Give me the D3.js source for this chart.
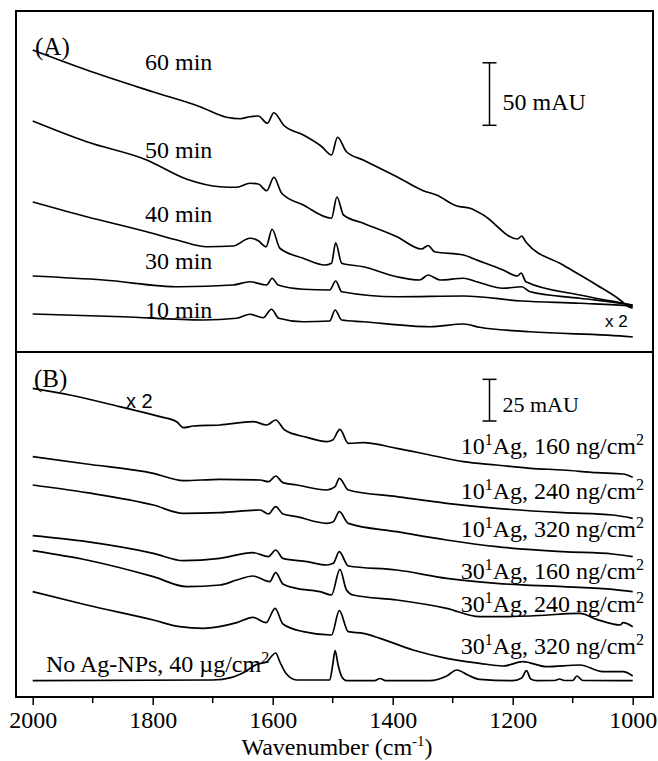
<!DOCTYPE html>
<html>
<head>
<meta charset="utf-8">
<script src="https://cdn.jsdelivr.net/npm/d3@7/dist/d3.min.js"></script>
<style>
  body { margin: 0; background: #fff; }
  text { font-family: "Liberation Serif", "Times New Roman", serif; fill: #000; }
  .sans { font-family: "Liberation Sans", Arial, sans-serif; }
</style>
</head>
<body>
<svg id="grafico" width="658" height="761"></svg>
<script>
// ---- dados (número de onda em cm-1, absorbância em mAU, com deslocamento de empilhamento) ----
const ticksPrincipais = [2000, 1800, 1600, 1400, 1200, 1000];
const ticksMenores = [1900, 1700, 1500, 1300, 1100];

// painel A: tempo de deposição
const rotulosA = ["60 min", "50 min", "40 min", "30 min", "10 min"];
const min60 = [[2000,241.6],[1910,225.6],[1800,208.2],[1721,196.2],[1677,187.8],[1654,186.6],[1638,188.2],[1624,188.8],[1609,183],[1598,191.4],[1582,181.6],[1549,173.6],[1518,164.2],[1502,157.6],[1492,171.8],[1477,160.2],[1449,153.6],[1393,140.2],[1349,129],[1327,125.6],[1293,116.8],[1271,115],[1249,109.6],[1192,90.4],[1185,92.8],[1178,88],[1116,69.6],[1060,53.6],[1021,41.6],[1007,36.2],[1000,35.2]];
const min50 = [[2000,184.8],[1910,168.2],[1810,153.6],[1743,138.2],[1688,132.2],[1660,131.8],[1638,135],[1624,134.4],[1610,129],[1598,139.8],[1585,127],[1549,117.6],[1502,107],[1493,124],[1482,109.6],[1449,103],[1393,92.2],[1352,82.4],[1341,85.2],[1330,80.2],[1282,77.6],[1260,73.6],[1216,65.6],[1192,60.8],[1186,63.2],[1178,56.2],[1088,45.6],[1016,39],[1000,37.6]];
const min40 = [[2000,120],[1910,108.2],[1810,96.2],[1755,89],[1710,84.2],[1666,84.8],[1638,91],[1624,89],[1611,84.2],[1601,98.2],[1588,83],[1549,75],[1513,69.6],[1502,71],[1495,87.4],[1485,71],[1449,68.2],[1393,60.2],[1355,57.6],[1341,61.6],[1321,57.6],[1282,59],[1260,56.2],[1216,51],[1185,52.2],[1171,48.2],[1088,43],[1004,37.6],[1000,37.2]];
const min30 = [[2000,60.8],[1882,57.6],[1755,52.2],[1666,53.6],[1638,56.2],[1610,53.6],[1601,59],[1591,53.6],[1549,50.2],[1505,49.6],[1495,56.8],[1485,48.2],[1393,44.2],[1282,44.8],[1185,40.8],[1088,39],[1004,36.8],[1000,36.4]];
const min10 = [[2000,30.4],[1850,28.2],[1716,25.6],[1660,27],[1638,30.2],[1616,27.4],[1602,34.2],[1590,27],[1549,24.2],[1505,24.8],[1496,33.6],[1485,25.6],[1449,24.2],[1338,20.2],[1282,22.4],[1255,19.8],[1171,16.2],[1004,12.2],[1000,12]];

// painel B: Ag-NPs
const rotulosB = ["10¹Ag, 160 ng/cm²", "10¹Ag, 240 ng/cm²", "10¹Ag, 320 ng/cm²", "30¹Ag, 160 ng/cm²", "30¹Ag, 240 ng/cm²", "30¹Ag, 320 ng/cm²"];
const rotuloSemAg = "No Ag-NPs, 40 µg/cm²";
const ag10_160 = [[2000,185.2],[1938,181.2],[1855,174.2],[1788,168.2],[1760,165.2],[1749,161.6],[1732,162.6],[1688,163.2],[1632,165.2],[1610,163.2],[1595,166.2],[1580,160.2],[1543,155.8],[1510,153.2],[1500,154.2],[1488,160.6],[1474,152.2],[1449,152.6],[1393,149.2],[1338,145.2],[1282,141.2],[1227,139.2],[1171,137.2],[1116,136.2],[1060,134.6],[1016,133.8],[1000,131.8]];
const ag10_240 = [[2000,144.2],[1910,139.8],[1799,134.2],[1749,129.8],[1688,130.6],[1621,130.2],[1607,129.2],[1595,132.6],[1583,128.6],[1560,127.2],[1510,124.2],[1496,126.2],[1489,131.2],[1474,124.2],[1393,120.2],[1310,116.2],[1227,113.2],[1116,110.6],[1033,109.2],[1000,107.2]];
const ag10_320 = [[2000,127.2],[1910,122.6],[1799,115.2],[1749,110.2],[1688,110.6],[1621,112.2],[1607,109.8],[1595,114.2],[1583,109.8],[1560,108.2],[1510,104.2],[1499,105.2],[1489,111.2],[1474,104.2],[1393,99.2],[1310,94.2],[1227,90.2],[1116,87.2],[1033,85.8],[1000,84.2]];
const ag30_160 = [[2000,96.8],[1910,93.2],[1799,86.2],[1749,81.8],[1688,83.2],[1633,86.6],[1607,84.2],[1595,88.2],[1583,83.2],[1543,81.2],[1510,79.2],[1499,80.2],[1489,87.2],[1474,78.6],[1393,76.2],[1310,71.2],[1227,68.2],[1116,66.2],[1033,64.6],[1000,63.2]];
const ag30_240 = [[2000,87.8],[1910,82.2],[1799,72.2],[1743,66.2],[1688,67.2],[1660,70.2],[1633,72.6],[1605,69.2],[1595,74.6],[1583,67.8],[1560,65.2],[1521,63.2],[1502,61.2],[1488,76.6],[1477,64.2],[1466,61.2],[1393,58.2],[1310,53.2],[1255,48.2],[1227,48.2],[1171,48.6],[1088,50.2],[1060,46.6],[1021,43.2],[1016,44.6],[1000,42.2]];
const ag30_320 = [[2000,63.2],[1910,55.2],[1799,46.2],[1755,42.2],[1716,41.2],[1660,44.6],[1633,47.8],[1611,44.6],[1596,53.2],[1583,43.8],[1549,39.2],[1502,37.2],[1489,51.8],[1474,39.2],[1449,38.2],[1421,35.2],[1366,28.2],[1310,23.2],[1255,20.2],[1216,18.6],[1183,21.2],[1144,18.2],[1088,19.2],[1050,15.2],[1016,15.2],[1000,12.6]];
const semAg = [[2000,9.8],[1700,10.2],[1668,11.8],[1646,15.2],[1625,19.8],[1610,21],[1603,24],[1595,26.4],[1588,21],[1578,14.2],[1560,10.2],[1505,10.2],[1500,19.2],[1496,27.8],[1491,19.2],[1485,12.2],[1477,9.8],[1430,9.8],[1421,11.1],[1412,9.8],[1338,9.8],[1310,12.6],[1293,16.2],[1275,13.2],[1255,10.6],[1200,9.8],[1185,11.4],[1177,15.8],[1170,10.8],[1160,9.8],[1130,9.9],[1122,10.8],[1114,9.9],[1100,9.9],[1093,12.6],[1083,9.9],[1000,9.8]];

const barraA = 50; // mAU
const barraB = 25; // mAU

// ---- escalas ----
const svg = d3.select("#grafico");
const x = d3.scaleLinear().domain([2000, 1000]).range([32.7, 632.7]);
const yA = d3.scaleLinear().domain([0, 272.8]).range([352, 11]);
const yB = d3.scaleLinear().domain([0, 207]).range([697, 352]);

function desenharEspectros(dados, y) {
  const linha = d3.line().curve(d3.curveMonotoneX).x(d => x(d[0])).y(d => y(d[1]));
  svg.append("g")
    .selectAll("path")
    .data(dados)
    .enter()
    .append("path")
    .attr("d", d => linha(d))
    .attr("fill", "none")
    .attr("stroke", "#000")
    .attr("stroke-width", 1.7)
    .attr("stroke-linejoin", "round");
}

desenharEspectros([min60, min50, min40, min30, min10], yA);
desenharEspectros([ag10_160, ag10_240, ag10_320, ag30_160, ag30_240, ag30_320, semAg], yB);

// moldura
svg.append("rect")
  .attr("x", 16).attr("y", 11)
  .attr("width", 637).attr("height", 686)
  .attr("fill", "none").attr("stroke", "#000").attr("stroke-width", 2);
svg.append("line")
  .attr("x1", 16).attr("x2", 653)
  .attr("y1", 352).attr("y2", 352)
  .attr("stroke", "#000").attr("stroke-width", 2);

// eixo x
const eixo = svg.append("g").attr("transform", "translate(0,697)");
eixo.call(d3.axisBottom(x).tickValues(ticksPrincipais).tickSize(8).tickPadding(6).tickFormat(d3.format("d")));
eixo.select(".domain").remove();
eixo.selectAll(".tick line").attr("stroke-width", 1.5);
eixo.selectAll("text")
  .attr("font-size", "24px")
  .attr("font-family", "'Liberation Serif', 'Times New Roman', serif");

svg.append("g")
  .selectAll("line")
  .data(ticksMenores)
  .enter()
  .append("line")
  .attr("x1", d => x(d)).attr("x2", d => x(d))
  .attr("y1", 697).attr("y2", 703)
  .attr("stroke", "#000").attr("stroke-width", 1.5);

const titulo = svg.append("text")
  .attr("x", 337).attr("y", 755)
  .attr("text-anchor", "middle")
  .attr("font-size", "24px");
titulo.append("tspan").text("Wavenumber (cm");
titulo.append("tspan").attr("dy", -9).attr("font-size", "15px").text("-1");
titulo.append("tspan").attr("dy", 9).text(")");

// rótulos painel A
svg.append("text").attr("x", 35).attr("y", 55).attr("font-size", "25px").text("(A)");
const baseA = [70, 158.3, 221.7, 269.3, 317.7];
svg.append("g")
  .selectAll("text")
  .data(rotulosA)
  .enter()
  .append("text")
  .attr("x", 145)
  .attr("y", (d, i) => baseA[i])
  .attr("font-size", "24px")
  .text(d => d);
svg.append("text").attr("class", "sans").attr("x", 605).attr("y", 327).attr("font-size", "17px").text("x 2");

// rótulos painel B
svg.append("text").attr("x", 34).attr("y", 387).attr("font-size", "25px").text("(B)");
svg.append("text").attr("class", "sans").attr("x", 126).attr("y", 408).attr("font-size", "20px").text("x 2");

function rotuloSobrescrito(sel, txt) {
  // quebra o texto em partes normais e sobrescritas (¹ e ²)
  const partes = txt.split(/([¹²])/);
  let acima = false;
  partes.forEach(p => {
    if (p === "") return;
    if (p === "¹" || p === "²") {
      sel.append("tspan").attr("dy", acima ? 0 : -9).attr("font-size", "16px").text(p === "¹" ? "1" : "2");
      acima = true;
    } else {
      sel.append("tspan").attr("dy", acima ? 9 : 0).text(p);
      acima = false;
    }
  });
}

const baseB = [454, 499.3, 536.7, 579.3, 611.7, 654];
rotulosB.forEach((r, i) => {
  const t = svg.append("text")
    .attr("x", 644).attr("y", baseB[i])
    .attr("text-anchor", "end")
    .attr("font-size", "24px");
  rotuloSobrescrito(t, r);
});
const tSem = svg.append("text").attr("x", 46).attr("y", 672).attr("font-size", "24px");
rotuloSobrescrito(tSem, rotuloSemAg);

// barras de escala
function barraEscala(xb, yBase, altura, texto, tamanho, yTexto) {
  const g = svg.append("g").attr("stroke", "#000").attr("stroke-width", 1.5);
  g.append("line").attr("x1", xb).attr("x2", xb).attr("y1", yBase).attr("y2", yBase - altura);
  g.append("line").attr("x1", xb - 7).attr("x2", xb + 7).attr("y1", yBase).attr("y2", yBase);
  g.append("line").attr("x1", xb - 7).attr("x2", xb + 7).attr("y1", yBase - altura).attr("y2", yBase - altura);
  svg.append("text").attr("x", xb + 13).attr("y", yTexto).attr("font-size", tamanho).text(texto);
}
barraEscala(489.5, 125.3, yA(0) - yA(barraA), `${barraA} mAU`, "24px", 110);
barraEscala(489.5, 421, yB(0) - yB(barraB), `${barraB} mAU`, "22px", 412);
</script>
</body>
</html>
